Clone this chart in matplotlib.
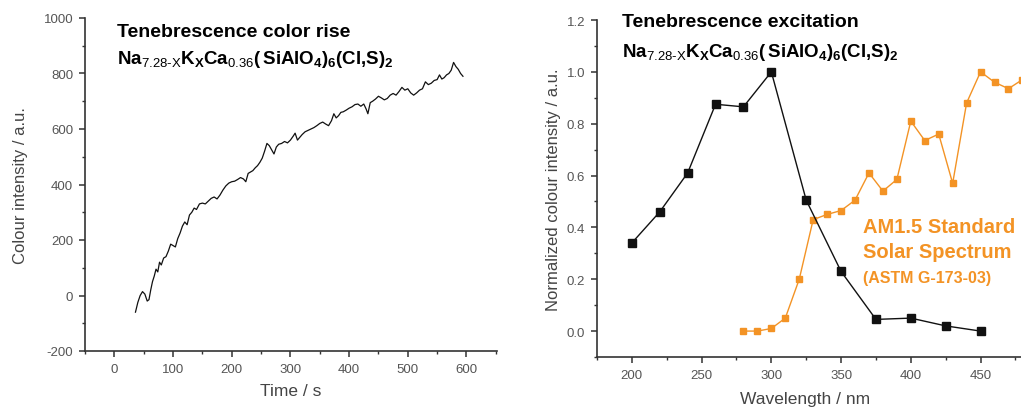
import numpy as np
import matplotlib
matplotlib.use('Agg')
import matplotlib.pyplot as plt
from matplotlib.ticker import MultipleLocator

# Set plotting defaults
fnt = {'family': 'Liberation Sans', 'size': 9}
matplotlib.rc('font', **fnt)
matplotlib.rc('axes', unicode_minus=False)
matplotlib.rc('mathtext', fontset='custom', rm='Liberation Sans',
              bf='Liberation Sans:bold', it='Liberation Sans:bold')

# Left panel: colour rise against time
time_s = [36, 40, 44, 48, 52, 56, 59, 62, 65, 68,
          71, 74, 77, 80, 84, 88, 92, 96, 100, 104,
          108, 112, 116, 120, 124, 128, 132, 136, 140, 145,
          150, 155, 160, 165, 170, 175, 180, 185, 190, 195,
          200, 205, 210, 215, 220, 224, 228, 232, 236, 240,
          244, 248, 252, 256, 260, 264, 268, 272, 276, 280,
          285, 290, 295, 300, 305, 308, 312, 316, 320, 325,
          330, 335, 340, 345, 350, 355, 360, 365, 370, 374,
          378, 382, 386, 390, 395, 400, 405, 410, 415, 420,
          425, 429, 432, 436, 440, 445, 450, 455, 460, 465,
          470, 475, 480, 485, 490, 495, 500, 505, 510, 515,
          520, 525, 530, 535, 540, 545, 550, 554, 558, 562,
          566, 570, 574, 578, 582, 586, 590, 594]
intensity = [-60, -25, 0, 14, 5, -20, -15, 20, 50, 70,
             95, 85, 120, 110, 135, 140, 160, 185, 180, 175,
             205, 225, 250, 265, 255, 290, 300, 315, 310, 330,
             333, 330, 340, 350, 355, 348, 362, 380, 395, 405,
             410, 412, 418, 425, 420, 410, 440, 445, 450, 460,
             468, 480, 495, 520, 548, 540, 525, 510, 535, 545,
             548, 555, 550, 560, 575, 585, 560, 570, 580, 590,
             595, 600, 605, 612, 620, 625, 618, 612, 630, 655,
             640, 648, 660, 662, 668, 675, 680, 688, 690, 682,
             690, 672, 655, 695, 700, 708, 718, 712, 705, 710,
             722, 728, 722, 735, 750, 740, 745, 730, 722, 730,
             740, 745, 770, 760, 765, 775, 778, 795, 780, 785,
             795, 800, 812, 840, 825, 815, 800, 790]

# Right panel: excitation spectrum and solar spectrum
exc_wl = [200, 220, 240, 260, 280, 300, 325, 350, 375, 400, 425, 450]
exc_int = [0.34, 0.46, 0.61, 0.875, 0.865, 1.0, 0.505, 0.23, 0.045, 0.05, 0.02, 0.0]
sun_wl = [280, 290, 300, 310, 320, 330, 340, 350, 360, 370, 380, 390, 400,
          410, 420, 430, 440, 450, 460, 470, 480]
sun_int = [0.0, 0.0, 0.01, 0.05, 0.2, 0.43, 0.45, 0.465, 0.505, 0.61, 0.54,
           0.585, 0.81, 0.735, 0.76, 0.57, 0.88, 1.0, 0.96, 0.935, 0.97]

formula = (r'$\mathbf{Na}_{\mathrm{\text{7.28-X}}}\mathbf{K}_{\mathbf{X}}'
           r'\mathbf{Ca}_{\mathrm{0.36}}\mathbf{(\,SiAlO}_{\mathbf{4}}\mathbf{)}_{\mathbf{6}}'
           r'\mathbf{(Cl{,}S)}_{\mathbf{2}}$')

orange = '#f39325'
tickcol = '#555555'
spinecol = '#333333'

F1 = plt.figure(figsize=(10.21, 4.10), dpi=100)
ax1 = F1.add_axes([85/1021, 1-352/410, 412/1021, 333/410])
ax2 = F1.add_axes([597/1021, 1-358/410, 424/1021, 337/410])

for ax in (ax1, ax2):
    for s in ('top', 'right'):
        ax.spines[s].set_visible(False)
    for s in ('left', 'bottom'):
        ax.spines[s].set_color(spinecol)
        ax.spines[s].set_linewidth(1.2)
    ax.tick_params(which='major', direction='out', length=4.5, width=1.1,
                   color=spinecol, labelcolor=tickcol, labelsize=9.5, pad=4)
    ax.tick_params(which='minor', direction='out', length=2.5, width=1.0,
                   color=spinecol)

# Left: colour rise
ax1.plot(time_s, intensity, '-', color='#111111', lw=0.9)
ax1.set_xlim(-50, 652)
ax1.set_ylim(-200, 1000)
ax1.xaxis.set_major_locator(MultipleLocator(100))
ax1.xaxis.set_minor_locator(MultipleLocator(50))
ax1.yaxis.set_major_locator(MultipleLocator(200))
ax1.yaxis.set_minor_locator(MultipleLocator(100))
ax1.set_xlabel('Time / s', fontsize=12.5, color='#444444')
ax1.set_ylabel('Colour intensity / a.u.', fontsize=12, color='#444444')
ax1.xaxis.set_label_coords(0.5, -0.095)
ax1.yaxis.set_label_coords(-0.138, 0.5)
ax1.text(0.078, 0.946, 'Tenebrescence color rise', transform=ax1.transAxes,
         fontsize=14, fontweight='bold', va='baseline')
ax1.text(0.078, 0.866, formula, transform=ax1.transAxes, fontsize=13.5,
         va='baseline')

# Right: excitation
ax2.plot(sun_wl, sun_int, 's-', color=orange, lw=1.0, ms=5, mec=orange)
ax2.plot(exc_wl, exc_int, 's-', color='#111111', lw=1.0, ms=6)
ax2.set_xlim(175, 479)
ax2.set_ylim(-0.1, 1.2)
ax2.xaxis.set_major_locator(MultipleLocator(50))
ax2.xaxis.set_minor_locator(MultipleLocator(25))
ax2.yaxis.set_major_locator(MultipleLocator(0.2))
ax2.yaxis.set_minor_locator(MultipleLocator(0.1))
ax2.yaxis.set_major_formatter(matplotlib.ticker.FormatStrFormatter('%.1f'))
ax2.set_xlabel('Wavelength / nm', fontsize=12.5, color='#444444')
ax2.set_ylabel('Normalized colour intensity / a.u.', fontsize=12, color='#444444')
ax2.xaxis.set_label_coords(0.49, -0.1)
ax2.yaxis.set_label_coords(-0.085, 0.5)
ax2.text(0.059, 0.982, 'Tenebrescence excitation', transform=ax2.transAxes,
         fontsize=14, fontweight='bold', va='baseline')
ax2.text(0.059, 0.893, formula, transform=ax2.transAxes, fontsize=13.5,
         va='baseline')
ax2.text(0.627, 0.371, 'AM1.5 Standard', transform=ax2.transAxes,
         fontsize=14.5, fontweight='bold', color=orange, va='baseline')
ax2.text(0.627, 0.297, 'Solar Spectrum', transform=ax2.transAxes,
         fontsize=14.5, fontweight='bold', color=orange, va='baseline')
ax2.text(0.627, 0.223, '(ASTM G-173-03)', transform=ax2.transAxes,
         fontsize=11.5, fontweight='bold', color=orange, va='baseline')

F1.savefig('out.png', dpi=100)
